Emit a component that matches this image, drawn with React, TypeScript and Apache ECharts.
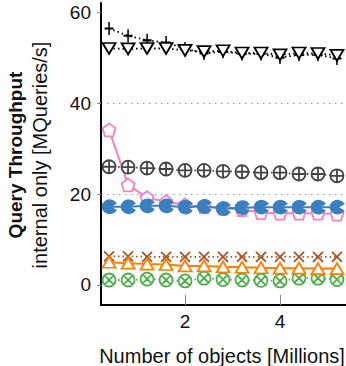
import React, { useEffect, useRef } from "react";
import * as echarts from "echarts";

const xValues = [0.4, 0.8, 1.2, 1.6, 2.0, 2.4, 2.8, 3.2, 3.6, 4.0, 4.4, 4.8, 5.2];

const seriesBar = [56.4, 54.8, 53.8, 53.3, 52.0, 50.9, 51.3, 50.8, 50.8, 50.0, 50.6, 50.6, 49.8];
const seriesTriDown = [52.0, 51.9, 52.0, 52.0, 51.6, 51.3, 51.5, 51.0, 51.0, 50.6, 51.0, 50.9, 50.5];
const seriesOPlus = [26.0, 25.9, 25.7, 25.5, 25.2, 25.2, 25.0, 24.9, 24.7, 24.7, 24.4, 24.4, 24.0];
const seriesPenta = [34.1, 22.0, 19.2, 18.3, 17.6, 17.2, 16.9, 16.6, 15.9, 15.8, 15.8, 15.8, 15.6];
const seriesPac = [17.2, 17.2, 17.4, 17.4, 17.1, 17.3, 16.8, 17.0, 17.1, 17.1, 17.1, 17.1, 17.1];
const seriesCross = [6.3, 6.3, 6.2, 6.2, 6.2, 6.2, 6.2, 6.2, 6.2, 6.2, 6.2, 6.2, 6.2];
const seriesTriUp = [5.0, 4.8, 4.6, 4.5, 4.2, 4.2, 4.0, 3.9, 3.8, 3.7, 3.7, 3.6, 3.6];
const seriesOTimes = [1.1, 1.1, 1.3, 1.1, 0.9, 1.5, 1.2, 1.1, 1.0, 0.9, 1.5, 1.5, 1.2];

const yTickLabels = [0, 20, 40, 60];
const xTickLabels = [2, 4];

const FONT = "'Liberation Sans', Arial, Helvetica, sans-serif";

const SYM_BAR = "path://M10,0 L10,20 M7,10 L13,10";
const SYM_TRI_DOWN = "path://M0,0 L20,0 L10,17 Z";
const SYM_OPLUS = "path://M0,10 A10,10 0 1 1 20,10 A10,10 0 1 1 0,10 Z M10,0 L10,20 M0,10 L20,10";
const SYM_OTIMES = "path://M0,10 A10,10 0 1 1 20,10 A10,10 0 1 1 0,10 Z M2.93,2.93 L17.07,17.07 M17.07,2.93 L2.93,17.07";
const SYM_PENTA = "path://M10,0 L19.51,6.91 L15.88,18.09 L4.12,18.09 L0.49,6.91 Z";
const SYM_PAC = "path://M10,10 L18.6,4.3 A10.3,10.3 0 1 0 18.6,15.7 Z";
const SYM_CROSS = "path://M0,0 L20,20 M20,0 L0,20";
const SYM_TRI_UP = "path://M10,0 L20,17 L0,17 Z";

function pts(ys: number[]) {
  return xValues.map((x, i) => [x, ys[i]]);
}

export default function App() {
  const ref = useRef<HTMLDivElement>(null);
  useEffect(() => {
    if (!ref.current) return;
    const chart = echarts.init(ref.current, undefined, { renderer: "svg" });
    const mk = (
      name: string,
      ys: number[],
      color: string,
      symbol: string,
      size: number | number[],
      dotted: boolean,
      fill: string,
      z: number
    ) => ({
      name,
      type: "line",
      data: pts(ys),
      symbol,
      symbolSize: size,
      showAllSymbol: true,
      z,
      lineStyle: { color, width: dotted ? 1.8 : 2, type: dotted ? [1.5, 3] : "solid" },
      itemStyle: { color: fill, borderColor: color, borderWidth: 1.8, opacity: 1 },
    });
    chart.setOption({
      animation: false,
      textStyle: { fontFamily: FONT },
      grid: { left: 101, right: 0, top: 3, bottom: 61 },
      xAxis: {
        type: "value",
        min: 0.23,
        max: 5.39,
        splitNumber: 3,
        axisLine: { show: true, onZero: false, lineStyle: { color: "#000", width: 2 } },
        axisTick: { show: true, inside: true, length: 10, lineStyle: { color: "#888", width: 1 }, customValues: xTickLabels },
        axisLabel: { color: "#111", fontSize: 19, fontFamily: FONT, margin: 7, customValues: xTickLabels },
        splitLine: { show: false },
      },
      yAxis: {
        type: "value",
        min: -4.4,
        max: 62,
        splitNumber: 3,
        axisLine: { show: true, onZero: false, lineStyle: { color: "#000", width: 2 } },
        axisTick: { show: true, inside: false, length: 4, lineStyle: { color: "#888", width: 1 }, customValues: yTickLabels },
        axisLabel: {
          color: "#111",
          fontSize: 19,
          fontFamily: FONT,
          margin: 10,
          customValues: yTickLabels,
        },
        splitLine: {
          show: true,
          showMinLine: false,
          showMaxLine: false,
          lineStyle: { color: "#999", type: [1.5, 4.5], width: 1.2 },
        },
      },
      graphic: [
        {
          type: "text",
          x: 222,
          y: 356,
          style: { text: "Number of objects [Millions]", font: `20px ${FONT}`, fill: "#111", align: "center", verticalAlign: "middle" },
        },
        {
          type: "text",
          x: 15,
          y: 155,
          rotation: Math.PI / 2,
          style: { text: "Query Throughput", font: `bold 19px ${FONT}`, fill: "#111", align: "center", verticalAlign: "middle" },
        },
        {
          type: "text",
          x: 40,
          y: 155,
          rotation: Math.PI / 2,
          style: { text: "internal only [MQueries/s]", font: `20px ${FONT}`, fill: "#111", align: "center", verticalAlign: "middle" },
        },
      ],
      series: [
        mk("bar", seriesBar, "#000", SYM_BAR, [9, 13], true, "#000", 3),
        mk("tridown", seriesTriDown, "#000", SYM_TRI_DOWN, [13, 11], true, "#fff", 4),
        mk("oplus", seriesOPlus, "#444", SYM_OPLUS, 13, true, "#fff", 3),
        mk("penta", seriesPenta, "#f77fc4", SYM_PENTA, 13, false, "#fff", 3),
        mk("pac", seriesPac, "#3a7fbf", SYM_PAC, 13, false, "#3a7fbf", 4),
        mk("cross", seriesCross, "#a65628", SYM_CROSS, 10, true, "#a65628", 3),
        mk("triup", seriesTriUp, "#ff7f00", SYM_TRI_UP, [13, 11], false, "#fff", 4),
        mk("otimes", seriesOTimes, "#4daf4a", SYM_OTIMES, 13, true, "#fff", 3),
      ],
    });
    return () => chart.dispose();
  }, []);
  return <div ref={ref} style={{ width: 346, height: 366, position: "absolute", left: 0, top: 0 }} />;
}
